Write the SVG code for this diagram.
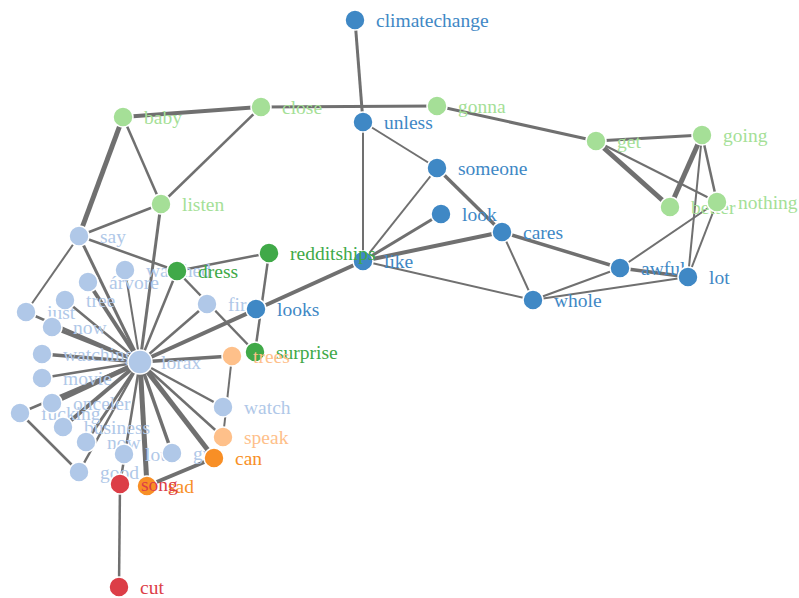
<svg xmlns="http://www.w3.org/2000/svg" width="799" height="598" viewBox="0 0 799 598">
<style>
.bg{fill:#ffffff}
#links line{stroke:#707070;stroke-linecap:butt}
.w2{stroke-width:2}
.w25{stroke-width:2.5}
.w3{stroke-width:3}
.w35{stroke-width:3.5}
.w4{stroke-width:4}
.w5{stroke-width:5}
.node circle{stroke:#ffffff;stroke-width:1.5}
.node text{font-family:"Liberation Serif","Times New Roman",serif;font-size:19.5px}
.c1 circle{fill:#3f88c5}.c1 text{fill:#3f88c5}
.c2 circle{fill:#a5df97}.c2 text{fill:#a5df97}
.c3 circle{fill:#40a948}.c3 text{fill:#40a948}
.c4 circle{fill:#b0c8e8}.c4 text{fill:#b0c8e8}
.c5 circle{fill:#fec08a}.c5 text{fill:#fec08a}
.c6 circle{fill:#f88f26}.c6 text{fill:#f88f26}
.c7 circle{fill:#dc3e47}.c7 text{fill:#dc3e47}
</style>
<rect class="bg" x="0" y="0" width="799" height="598"/>
<g id="links">
<line class="w3" x1="355" y1="20" x2="363" y2="122"/>
<line class="w4" x1="123" y1="117" x2="261" y2="107"/>
<line class="w3" x1="261" y1="107" x2="437" y2="106"/>
<line class="w3" x1="437" y1="106" x2="596" y2="141"/>
<line class="w3" x1="596" y1="141" x2="702" y2="135"/>
<line class="w5" x1="596" y1="141" x2="670" y2="207"/>
<line class="w2" x1="596" y1="141" x2="717" y2="202"/>
<line class="w5" x1="702" y1="135" x2="670" y2="207"/>
<line class="w25" x1="702" y1="135" x2="717" y2="202"/>
<line class="w2" x1="702" y1="135" x2="688" y2="277"/>
<line class="w2" x1="717" y1="202" x2="688" y2="277"/>
<line class="w2" x1="717" y1="202" x2="620" y2="268"/>
<line class="w35" x1="620" y1="268" x2="688" y2="277"/>
<line class="w2" x1="533" y1="300" x2="688" y2="277"/>
<line class="w2" x1="533" y1="300" x2="620" y2="268"/>
<line class="w35" x1="502" y1="232" x2="620" y2="268"/>
<line class="w2" x1="502" y1="232" x2="533" y2="300"/>
<line class="w2" x1="363" y1="261" x2="533" y2="300"/>
<line class="w4" x1="363" y1="261" x2="502" y2="232"/>
<line class="w3" x1="363" y1="261" x2="441" y2="214"/>
<line class="w2" x1="363" y1="261" x2="437" y2="168"/>
<line class="w35" x1="437" y1="168" x2="502" y2="232"/>
<line class="w2" x1="363" y1="122" x2="437" y2="168"/>
<line class="w2" x1="363" y1="122" x2="363" y2="261"/>
<line class="w4" x1="363" y1="261" x2="140" y2="362"/>
<line class="w25" x1="269" y1="253" x2="255" y2="352"/>
<line class="w25" x1="269" y1="253" x2="177" y2="271"/>
<line class="w25" x1="177" y1="271" x2="255" y2="352"/>
<line class="w25" x1="79" y1="236" x2="177" y2="271"/>
<line class="w5" x1="79" y1="236" x2="123" y2="117"/>
<line class="w25" x1="123" y1="117" x2="161" y2="204"/>
<line class="w25" x1="261" y1="107" x2="161" y2="204"/>
<line class="w25" x1="161" y1="204" x2="79" y2="236"/>
<line class="w3" x1="161" y1="204" x2="140" y2="362"/>
<line class="w2" x1="79" y1="236" x2="26" y2="312"/>
<line class="w3" x1="79" y1="236" x2="140" y2="362"/>
<line class="w2" x1="140" y1="362" x2="125" y2="270"/>
<line class="w4" x1="140" y1="362" x2="88" y2="282"/>
<line class="w25" x1="140" y1="362" x2="65" y2="300"/>
<line class="w25" x1="140" y1="362" x2="26" y2="312"/>
<line class="w4" x1="140" y1="362" x2="52" y2="327"/>
<line class="w35" x1="140" y1="362" x2="42" y2="354"/>
<line class="w25" x1="140" y1="362" x2="42" y2="378"/>
<line class="w5" x1="140" y1="362" x2="52" y2="403"/>
<line class="w25" x1="140" y1="362" x2="20" y2="413"/>
<line class="w4" x1="140" y1="362" x2="63" y2="427"/>
<line class="w3" x1="140" y1="362" x2="86" y2="442"/>
<line class="w25" x1="140" y1="362" x2="79" y2="472"/>
<line class="w25" x1="140" y1="362" x2="120" y2="484"/>
<line class="w5" x1="140" y1="362" x2="147" y2="486"/>
<line class="w35" x1="140" y1="362" x2="172" y2="453"/>
<line class="w5" x1="140" y1="362" x2="214" y2="458"/>
<line class="w25" x1="140" y1="362" x2="223" y2="437"/>
<line class="w25" x1="140" y1="362" x2="223" y2="407"/>
<line class="w35" x1="140" y1="362" x2="232" y2="356"/>
<line class="w25" x1="140" y1="362" x2="207" y2="304"/>
<line class="w25" x1="140" y1="362" x2="177" y2="271"/>
<line class="w2" x1="232" y1="356" x2="223" y2="437"/>
<line class="w4" x1="214" y1="458" x2="147" y2="486"/>
<line class="w25" x1="120" y1="484" x2="119" y2="587"/>
<line class="w25" x1="20" y1="413" x2="79" y2="472"/>
</g>
<g id="nodes">
<g id="n-say" class="node c4"><circle cx="79" cy="236" r="10"/><text x="100" y="243">say</text></g>
<g id="n-watched" class="node c4"><circle cx="125" cy="270" r="10"/><text x="146" y="277">watched</text></g>
<g id="n-arvore" class="node c4"><circle cx="88" cy="282" r="10"/><text x="109" y="289">árvore</text></g>
<g id="n-tree" class="node c4"><circle cx="65" cy="300" r="10"/><text x="86" y="307">tree</text></g>
<g id="n-just" class="node c4"><circle cx="26" cy="312" r="10"/><text x="47" y="319">just</text></g>
<g id="n-now" class="node c4"><circle cx="52" cy="327" r="10"/><text x="73" y="334">now</text></g>
<g id="n-watching" class="node c4"><circle cx="42" cy="354" r="10"/><text x="63" y="361">watching</text></g>
<g id="n-movie" class="node c4"><circle cx="42" cy="378" r="10"/><text x="63" y="385">movie</text></g>
<g id="n-fucking" class="node c4"><circle cx="20" cy="413" r="10"/><text x="41" y="420">fucking</text></g>
<g id="n-onceler" class="node c4"><circle cx="52" cy="403" r="10"/><text x="73" y="410">onceler</text></g>
<g id="n-business" class="node c4"><circle cx="63" cy="427" r="10"/><text x="84" y="434">business</text></g>
<g id="n-now2" class="node c4"><circle cx="86" cy="442" r="10"/><text x="107" y="449">now</text></g>
<g id="n-good" class="node c4"><circle cx="79" cy="472" r="10"/><text x="100" y="479">good</text></g>
<g id="n-loud" class="node c4"><circle cx="124" cy="454" r="10"/><text x="145" y="461">loud</text></g>
<g id="n-guy" class="node c4"><circle cx="172" cy="453" r="10"/><text x="193" y="460">guy</text></g>
<g id="n-fire" class="node c4"><circle cx="207" cy="304" r="10"/><text x="228" y="311">fire</text></g>
<g id="n-watch" class="node c4"><circle cx="223" cy="407" r="10"/><text x="244" y="414">watch</text></g>
<g id="n-lorax" class="node c4"><circle cx="140" cy="362" r="12"/><text x="161" y="369">lorax</text></g>
<g id="n-baby" class="node c2"><circle cx="123" cy="117" r="10"/><text x="144" y="124">baby</text></g>
<g id="n-close" class="node c2"><circle cx="261" cy="107" r="10"/><text x="282" y="114">close</text></g>
<g id="n-gonna" class="node c2"><circle cx="437" cy="106" r="10"/><text x="458" y="113">gonna</text></g>
<g id="n-get" class="node c2"><circle cx="596" cy="141" r="10"/><text x="617" y="148">get</text></g>
<g id="n-going" class="node c2"><circle cx="702" cy="135" r="10"/><text x="723" y="142">going</text></g>
<g id="n-better" class="node c2"><circle cx="670" cy="207" r="10"/><text x="691" y="214">better</text></g>
<g id="n-nothing" class="node c2"><circle cx="717" cy="202" r="10"/><text x="738" y="209">nothing</text></g>
<g id="n-listen" class="node c2"><circle cx="161" cy="204" r="10"/><text x="182" y="211">listen</text></g>
<g id="n-climatechange" class="node c1"><circle cx="355" cy="20" r="10"/><text x="376" y="27">climatechange</text></g>
<g id="n-unless" class="node c1"><circle cx="363" cy="122" r="10"/><text x="384" y="129">unless</text></g>
<g id="n-someone" class="node c1"><circle cx="437" cy="168" r="10"/><text x="458" y="175">someone</text></g>
<g id="n-look" class="node c1"><circle cx="441" cy="214" r="10"/><text x="462" y="221">look</text></g>
<g id="n-cares" class="node c1"><circle cx="502" cy="232" r="10"/><text x="523" y="239">cares</text></g>
<g id="n-like" class="node c1"><circle cx="363" cy="261" r="10"/><text x="384" y="268">like</text></g>
<g id="n-whole" class="node c1"><circle cx="533" cy="300" r="10"/><text x="554" y="307">whole</text></g>
<g id="n-awful" class="node c1"><circle cx="620" cy="268" r="10"/><text x="641" y="275">awful</text></g>
<g id="n-lot" class="node c1"><circle cx="688" cy="277" r="10"/><text x="709" y="284">lot</text></g>
<g id="n-looks" class="node c1"><circle cx="256" cy="309" r="10"/><text x="277" y="316">looks</text></g>
<g id="n-redditships" class="node c3"><circle cx="269" cy="253" r="10"/><text x="290" y="260">redditships</text></g>
<g id="n-dress" class="node c3"><circle cx="177" cy="271" r="10"/><text x="198" y="278">dress</text></g>
<g id="n-surprise" class="node c3"><circle cx="255" cy="352" r="10"/><text x="276" y="359">surprise</text></g>
<g id="n-trees" class="node c5"><circle cx="232" cy="356" r="10"/><text x="253" y="363">trees</text></g>
<g id="n-speak" class="node c5"><circle cx="223" cy="437" r="10"/><text x="244" y="444">speak</text></g>
<g id="n-can" class="node c6"><circle cx="214" cy="458" r="10"/><text x="235" y="465">can</text></g>
<g id="n-sad" class="node c6"><circle cx="147" cy="486" r="10"/><text x="168" y="493">sad</text></g>
<g id="n-song" class="node c7"><circle cx="120" cy="484" r="10"/><text x="141" y="491">song</text></g>
<g id="n-cut" class="node c7"><circle cx="119" cy="587" r="10"/><text x="140" y="594">cut</text></g>
</g>
</svg>
